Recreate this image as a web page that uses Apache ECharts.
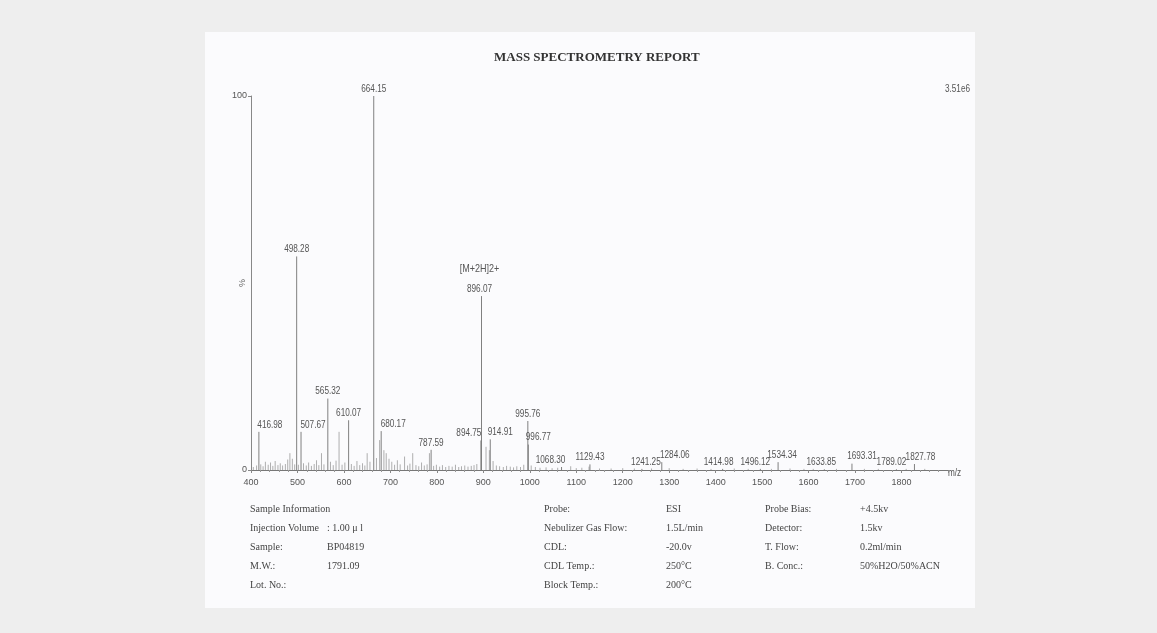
<!DOCTYPE html>
<html>
<head>
<meta charset="utf-8">
<script src="https://cdn.jsdelivr.net/npm/echarts@6/dist/echarts.min.js"></script>
<style>
html,body{margin:0;padding:0;background:#eeeeee;}
#c{width:1157px;height:633px;}
</style>
</head>
<body>
<div id="c"></div>
<script>
// ---------- DATA ----------
const xTicks = [400, 500, 600, 700, 800, 900, 1000, 1100, 1200, 1300, 1400, 1500, 1600, 1700, 1800];
const yTicks = [0, 100];
// labelled peaks: m/z and relative intensity (%)
const peakMz = [416.98, 498.28, 507.67, 565.32, 610.07, 664.15, 680.17, 787.59, 894.75, 896.07, 914.91, 995.76, 996.77,
  1068.30, 1129.43, 1241.25, 1284.06, 1414.98, 1496.12, 1534.34, 1633.85, 1693.31, 1789.02, 1827.78];
const peakInt = [10.2, 57.1, 10.2, 19.1, 13.3, 100, 10.4, 5.4, 7.9, 46.5, 8.2, 13.1, 6.8,
  0.8, 1.5, 0.3, 2.1, 0.3, 0.3, 2.1, 0.2, 1.7, 0.2, 1.6];
const peakLabels = ['416.98', '498.28', '507.67', '565.32', '610.07', '664.15', '680.17', '787.59', '894.75', '896.07', '914.91', '995.76', '996.77',
  '1068.30', '1129.43', '1241.25', '1284.06', '1414.98', '1496.12', '1534.34', '1633.85', '1693.31', '1789.02', '1827.78'];
const annotations = { '896.07': '[M+2H]2+' };
// unlabelled minor peaks (m/z, %)
const minorMz = [405, 412, 421, 426, 431, 437, 442, 447, 452, 458, 463, 468, 474, 479, 483.7, 489, 494, 502, 513, 519, 524, 530, 536, 541, 546,
  551.7, 557, 571, 577, 583, 589.5, 596, 602, 616, 622, 628, 634, 640, 645, 650, 656, 670, 676.8, 686, 691, 697, 703, 709, 715, 721,
  730.5, 737, 742, 748, 755, 761, 767, 773, 779, 784, 793, 799, 806, 812, 819, 826, 833, 840, 847, 853, 860, 867, 874, 880, 886,
  905.8, 913, 921, 928, 935, 943, 950, 958, 965, 972, 980, 987, 1003, 1012, 1022, 1035, 1048, 1060, 1088, 1100, 1112, 1127.5, 1150,
  1175, 1200, 1225, 1262, 1300, 1330, 1360, 1390, 1440, 1470, 1520, 1560, 1590, 1610, 1660, 1720, 1750, 1810, 1850];
const minorInt = [0.8, 1.2, 1.5, 1.0, 2.2, 1.4, 2.0, 1.1, 2.4, 1.3, 1.8, 1.2, 1.6, 2.8, 4.5, 3.0, 1.5, 1.4, 1.8, 1.2, 2.0, 1.1, 1.6, 2.6, 1.3,
  4.5, 1.5, 2.2, 1.3, 2.5, 10.2, 1.4, 2.0, 1.6, 1.1, 2.4, 1.3, 1.8, 1.2, 4.5, 2.2, 3.2, 8.0, 5.3, 4.5, 3.0, 2.2, 1.4, 2.6, 1.5,
  3.6, 1.2, 1.7, 4.5, 1.3, 1.0, 2.0, 1.2, 1.5, 4.5, 1.1, 1.4, 0.9, 1.3, 0.8, 1.1, 0.9, 1.4, 0.8, 1.0, 1.2, 0.9, 1.1, 1.3, 1.6,
  6.2, 5.3, 2.4, 1.2, 1.0, 0.8, 1.1, 0.9, 0.7, 1.0, 0.8, 1.4, 1.2, 0.8, 0.6, 0.7, 0.5, 0.6, 1.0, 0.5, 0.6, 0.9, 0.4,
  0.4, 0.5, 0.4, 0.4, 0.5, 0.3, 0.4, 0.3, 0.4, 0.3, 0.3, 0.4, 0.3, 0.3, 0.3, 0.3, 0.3, 0.3, 0.3];
const fullScale = '3.51e6';
const infoLeft = [['Sample Information', ''], ['Injection Volume', ': 1.00 μ l'], ['Sample:', 'BP04819'], ['M.W.:', '1791.09'], ['Lot. No.:', '']];
const infoMid = [['Probe:', 'ESI'], ['Nebulizer Gas Flow:', '1.5L/min'], ['CDL:', '-20.0v'], ['CDL Temp.:', '250°C'], ['Block Temp.:', '200°C']];
const infoRight = [['Probe Bias:', '+4.5kv'], ['Detector:', '1.5kv'], ['T. Flow:', '0.2ml/min'], ['B. Conc.:', '50%H2O/50%ACN']];

// ---------- LAYOUT (presentation only) ----------
const SANS = "'Liberation Sans',Arial,sans-serif";
const SERIF = "'Liberation Serif','DejaVu Serif',serif";
const NARROW_SCALE = 0.82;
const labelNudge = { '416.98': 11, '507.67': 12, '680.17': 12, '894.75': -12, '896.07': -2, '914.91': 10, '996.77': 10, '1068.30': -11,
  '1241.25': 4, '1284.06': 13, '1414.98': -4, '1496.12': -5, '1534.34': 4, '1633.85': -3, '1693.31': 10, '1789.02': -5, '1827.78': 6 };

const peakData = peakMz.map((m, i) => [m, peakInt[i], peakLabels[i]]);
const minorData = minorMz.map((m, i) => [m, minorInt[i]]);

const chart = echarts.init(document.getElementById('c'));

function infoTexts(rows, xLabel, xValue, y0, dy) {
  const out = [];
  rows.forEach((r, i) => {
    out.push({ type: 'text', left: xLabel, top: y0 + i * dy - 6, style: { text: r[0], font: '10px ' + SERIF, fill: '#444' } });
    if (r[1]) out.push({ type: 'text', left: xValue, top: y0 + i * dy - 6, style: { text: r[1], font: '10px ' + SERIF, fill: '#444' } });
  });
  return out;
}

function narrowText(x, y, text, size, align, vAlign) {
  return { type: 'text', x: x, y: y, scaleX: NARROW_SCALE, originX: 0, originY: 0,
    style: { text: text, font: size + 'px ' + SANS, fill: '#555', textAlign: align, textVerticalAlign: vAlign } };
}

const graphics = [
  { type: 'rect', left: 205, top: 32, shape: { width: 770, height: 576 }, style: { fill: '#fbfbfd' }, z: -10 },
  { type: 'text', left: 494, top: 51, style: { text: 'MASS SPECTROMETRY REPORT', font: 'bold 13px ' + SERIF, fill: '#333' } },
  narrowText(970, 89, fullScale, 10, 'right', 'middle'),
  narrowText(948, 473, 'm/z', 10, 'left', 'middle'),
  { type: 'text', x: 243, y: 283, rotation: Math.PI / 2, style: { text: '%', font: '9px ' + SANS, fill: '#666', textAlign: 'center', textVerticalAlign: 'middle' } }
].concat(infoTexts(infoLeft, 250, 327, 510, 19))
 .concat(infoTexts(infoMid, 544, 666, 510, 19))
 .concat(infoTexts(infoRight, 765, 860, 510, 19));

const option = {
  backgroundColor: '#eeeeee',
  animation: false,
  grid: { left: 251, right: 209, top: 96, bottom: 163, containLabel: false },
  graphic: graphics,
  xAxis: {
    type: 'value', min: 400, max: 1900, interval: 100,
    axisLine: { lineStyle: { color: '#777', width: 1 } },
    axisTick: { show: true, length: 3, lineStyle: { color: '#888' } },
    minorTick: { show: true, splitNumber: 5, length: 2, lineStyle: { color: '#999' } },
    axisLabel: { color: '#555', fontSize: 9, fontFamily: SANS, margin: 8,
      formatter: v => (xTicks.indexOf(v) >= 0 ? String(v) : '') },
    splitLine: { show: false }
  },
  yAxis: {
    type: 'value', min: 0, max: 100, interval: 100,
    axisLine: { show: true, lineStyle: { color: '#888', width: 1 } },
    axisTick: { show: true, length: 3, lineStyle: { color: '#888' } },
    axisLabel: { color: '#555', fontSize: 9, fontFamily: SANS, margin: 4,
      formatter: v => (yTicks.indexOf(v) >= 0 ? String(v) : '') },
    splitLine: { show: false }
  },
  series: [
    {
      type: 'custom', name: 'minor', data: minorData, clip: true,
      renderItem: (params, api) => {
        const p0 = api.coord([api.value(0), 0]);
        const p1 = api.coord([api.value(0), api.value(1)]);
        return { type: 'line', shape: { x1: p0[0], y1: p0[1], x2: p1[0], y2: p1[1] }, style: { stroke: '#9a9a9a', lineWidth: 0.8 } };
      }
    },
    {
      type: 'custom', name: 'peaks', data: peakData,
      renderItem: (params, api) => {
        const d = peakData[params.dataIndex];
        const p0 = api.coord([d[0], 0]);
        const p1 = api.coord([d[0], d[1]]);
        const dx = labelNudge[d[2]] || 0;
        const children = [
          { type: 'line', shape: { x1: p0[0], y1: p0[1], x2: p1[0], y2: p1[1] }, style: { stroke: '#808080', lineWidth: 1 } },
          narrowText(p1[0] + dx, p1[1] - 2, d[2], 10, 'center', 'bottom')
        ];
        if (annotations[d[2]]) {
          children.push(narrowText(p1[0] + dx, p1[1] - 22, annotations[d[2]], 11, 'center', 'bottom'));
        }
        return { type: 'group', children };
      }
    }
  ]
};
chart.setOption(option);
</script>
</body>
</html>
